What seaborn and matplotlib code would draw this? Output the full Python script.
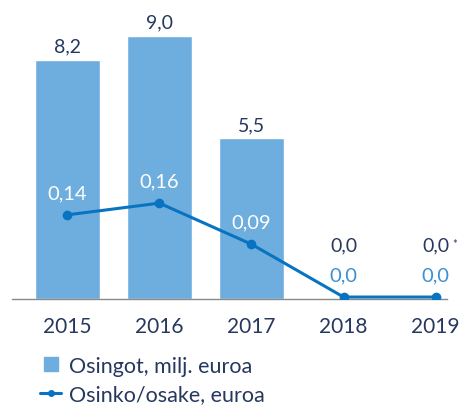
import numpy as np
import pandas as pd
import matplotlib
matplotlib.use('Agg')
import matplotlib.pyplot as plt
import seaborn as sns
from matplotlib.lines import Line2D

# data
years = ['2015', '2016', '2017', '2018', '2019']
dividends_meur = [8.2, 9.0, 5.5, 0.0, 0.0]
dividend_per_share = [0.14, 0.16, 0.09, 0.0, 0.0]
bar_labels = ['8,2', '9,0', '5,5', '0,0', '0,0']
line_labels = ['0,14', '0,16', '0,09', '0,0', '0,0']

bar_color = '#6EAEDF'
line_color = '#0874C1'
dark = '#26385F'
light_blue = '#3D90D2'

sns.set_theme(style='white')
plt.rcParams['font.family'] = ['Lato', 'DejaVu Sans']

df = pd.DataFrame({'year': years, 'meur': dividends_meur, 'dps': dividend_per_share})

fig = plt.figure(figsize=(4.68, 4.06), dpi=100)
ax = fig.add_axes([0.0256, 0.261, 0.929, 0.719])

sns.barplot(data=df, x='year', y='meur', color=bar_color, width=0.71,
            saturation=1, ax=ax)
ax.set_xlim(-0.60, 4.12)
ax.set_ylim(0, 10)
ax.set_xlabel('')
ax.set_ylabel('')
ax.set_yticks([])
ax.tick_params(axis='x', length=0, pad=12, labelsize=15, labelcolor=dark)
for s in ['top', 'right', 'left']:
    ax.spines[s].set_visible(False)
ax.spines['bottom'].set_color('#8A8A8A')
ax.spines['bottom'].set_linewidth(1.0)

ax2 = ax.twinx()
sns.lineplot(x=np.arange(len(years)), y=df['dps'], color=line_color, lw=2.2,
             marker='o', markersize=7, markeredgewidth=0, ax=ax2)
ax2.set_ylim(-0.0034, 0.494)
ax2.set_yticks([])
ax2.set_ylabel('')
for s in ax2.spines.values():
    s.set_visible(False)

# value labels
for i, (v, lab) in enumerate(zip(dividends_meur, bar_labels)):
    off = 4 if v > 0 else 33
    ax.annotate(lab, (i, v), xytext=(0, off), textcoords='offset points',
                ha='center', va='bottom', fontsize=14, color=dark)
for i, (v, lab) in enumerate(zip(dividend_per_share, line_labels)):
    c = 'white' if v > 0 else light_blue
    ax2.annotate(lab, (i, v), xytext=(0, 16), textcoords='offset points',
                 ha='center', va='center', fontsize=14.5, color=c)
ax.annotate('*', (4, 0), xytext=(14, 40), textcoords='offset points',
            ha='center', va='center', fontsize=8, color=dark)

handles = [Line2D([], [], color=bar_color, marker='s', markersize=9.5, ls='none'),
           Line2D([], [], color=line_color, lw=2.2, marker='o', markersize=4)]
fig.legend(handles, ['Osingot, milj. euroa', 'Osinko/osake, euroa'],
           loc='upper left', bbox_to_anchor=(0.062, 0.148), frameon=False,
           fontsize=15.5, labelcolor=dark, handlelength=1.0, handletextpad=0.35,
           labelspacing=0.4, borderpad=0)

fig.savefig('out.png', dpi=100)
